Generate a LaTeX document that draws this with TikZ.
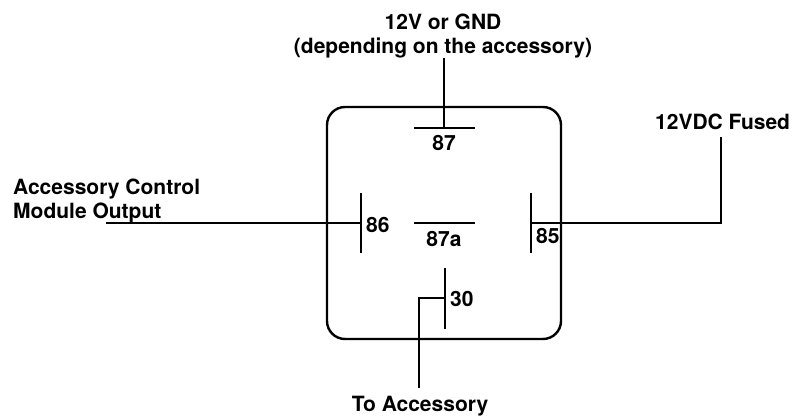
\documentclass[tikz,border=0pt]{standalone}
\usepackage{fontspec}
\setmainfont{TeX Gyre Heros}
\usepackage{tikz}

\begin{document}
\begin{tikzpicture}[x=1pt,y=-1pt,line width=2.4pt,
	lbl/.style={font=\bfseries\fontsize{21}{24}\selectfont,inner sep=0pt},
	pin/.style={font=\bfseries\fontsize{21}{24}\selectfont,inner sep=0pt}]
	\useasboundingbox (0,0) rectangle (792,417);
	
	\draw[rounded corners=18pt] (327,107) rectangle (561,339);
	
	\coordinate (p87) at (444,128);
	\coordinate (p86) at (361,223);
	\coordinate (p85) at (531,223);
	\coordinate (p30) at (445,298);
	
	\draw (414,128) -- (475,128);
	\draw (414,223) -- (475,223);
	\draw (361,193) -- (361,253);
	\draw (531,193) -- (531,253);
	\draw (445,268) -- (445,329);
	
	\node[pin,anchor=base] (n87) at (444,150) {87};
	\node[pin,anchor=base] (n87a) at (444,246) {87a};
	\node[pin,anchor=base west] (n86) at (365,232) {86};
	\node[pin,anchor=base west] (n85) at (535,243) {85};
	\node[pin,anchor=base west] (n30) at (449,306) {30};
	
	\node[lbl,align=center,anchor=north] (supply) at (443,13) {12V or GND\\(depending on the accessory)};
	\node[lbl,align=left,anchor=north west] (acm) at (12,178) {Accessory Control\\Module Output};
	\node[lbl,anchor=base west] (fused) at (654,129) {12VDC Fused};
	\node[lbl,anchor=base] (acc) at (420,411) {To Accessory};
	
	\coordinate (w87) at (444,58);
	\coordinate (w86) at (106,223);
	\coordinate (w85) at (721,137);
	\coordinate (w30) at (419,388);
	
	\path[-] (w87) edge (p87);
	\path[-] (w86) edge (p86);
	\draw (p85) -| (w85);
	\draw (p30) -| (w30);
\end{tikzpicture}
\end{document}
